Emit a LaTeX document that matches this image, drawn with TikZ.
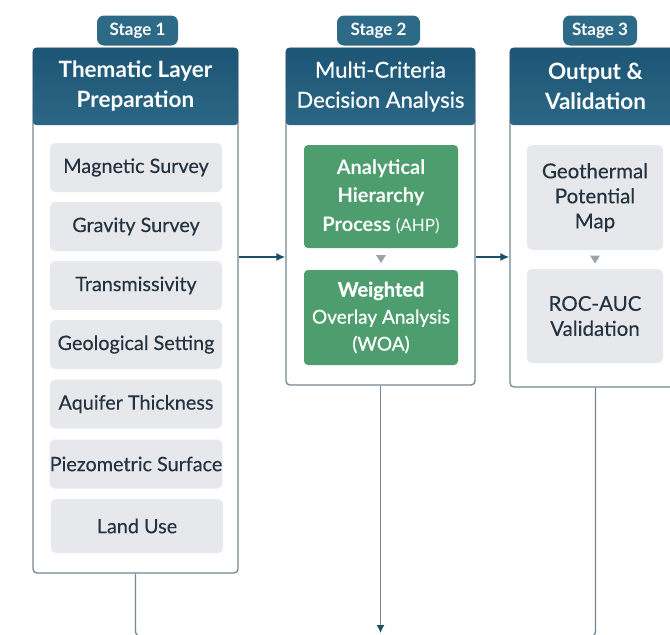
\documentclass[tikz,border=0pt]{standalone}
\usepackage{fontspec}
\setmainfont{Lato}
\newfontfamily\semifont{Lato}[FakeBold=0.6]
\newfontfamily\midfont{Lato}[FakeBold=0.25]
\usetikzlibrary{arrows.meta}

\definecolor{headblue}{HTML}{1D5575}
\definecolor{headlight}{HTML}{2B6784}
\definecolor{badgeblue}{HTML}{2D6A88}
\definecolor{layergrey}{HTML}{E6E8EB}
\definecolor{layertext}{HTML}{25323F}
\definecolor{mcdagreen}{HTML}{4E9D6E}
\definecolor{rimgrey}{HTML}{76858F}
\definecolor{flowblue}{HTML}{1E4D6B}
\definecolor{tipgrey}{HTML}{9AA3AA}

\tikzset{
  panel/.style={draw=rimgrey, line width=1.3pt, fill=white, rounded corners=4pt, inner sep=0pt},
  header/.style={top color=headblue, bottom color=headlight, rounded corners=3pt, inner sep=0pt,
    minimum height=77pt, text=white, align=center, font=\fontsize{22.5}{30}\selectfont\bfseries},
  badge/.style={fill=badgeblue, rounded corners=7pt, text=white, inner sep=0pt, minimum height=30pt,
    font=\fontsize{17}{18}\selectfont\bfseries},
  layer/.style={fill=layergrey, rounded corners=5pt, text=layertext, inner sep=0pt,
    minimum width=172pt, minimum height=49pt, font=\midfont\fontsize{19.8}{22}\selectfont},
  mcda/.style={fill=mcdagreen, rounded corners=4pt, text=white, inner sep=0pt,
    minimum width=154pt, align=center},
  result/.style={fill=layergrey, rounded corners=5pt, text=layertext, inner sep=0pt,
    minimum width=136pt, align=center, font=\midfont\fontsize{20.5}{25}\selectfont},
  flow/.style={draw=flowblue, line width=1.6pt, -{Latex[length=9pt,width=8pt]}},
  link/.style={draw=rimgrey, line width=1.3pt, rounded corners=6pt},
  tip/.style={fill=tipgrey}
}

\begin{document}
\begin{tikzpicture}[x=1pt,y=-1pt]
  \useasboundingbox[fill=white] (0,0) rectangle (670,635);
  % stage panels
  \node[panel, minimum width=205pt, minimum height=525pt] (p1) at (135.5,310.5) {};
  \node[panel, minimum width=189pt, minimum height=337pt] (p2) at (380.5,216.5) {};
  \node[panel, minimum width=171pt, minimum height=339pt] (p3) at (595.5,217.5) {};
  \node[header, minimum width=205pt] (h1) at (135.5,86.5) {Thematic Layer\\Preparation};
  \node[header, minimum width=189pt, font=\semifont\fontsize{22}{30}\selectfont] (h2) at (380.5,86.5) {Multi-Criteria\\Decision Analysis};
  \node[header, minimum width=171pt] (h3) at (595.5,86.5) {Output \&\\Validation};
  \node[badge, minimum width=81pt] (b1) at (137.5,30.5) {Stage 1};
  \node[badge, minimum width=83pt] (b2) at (378.5,30.5) {Stage 2};
  \node[badge, minimum width=74pt] (b3) at (600,30.5) {Stage 3};
  % stage 1 layers
  \node[layer] (mag) at (136,167.5) {Magnetic Survey};
  \node[layer] (grav) at (136,226.5) {Gravity Survey};
  \node[layer] (trans) at (136,285.5) {Transmissivity};
  \node[layer] (geo) at (136,344.5) {Geological Setting};
  \node[layer] (aqu) at (136,404) {Aquifer Thickness};
  \node[layer] (piezo) at (136,464) {Piezometric Surface};
  \node[layer, minimum height=54pt] (land) at (137,526) {Land Use};
  % stage 2
  \node[mcda, minimum height=103pt, font=\fontsize{20}{28.5}\selectfont\bfseries] (ahp) at (381,196.5)
    {Analytical\\Hierarchy\\Process {\mdseries\fontsize{17}{28.5}\selectfont(AHP)}};
  \node[mcda, minimum height=95pt, font=\semifont\fontsize{19}{27}\selectfont] (woa) at (381,317.5)
    {{\bfseries\fontsize{20}{27}\selectfont Weighted}\\Overlay Analysis\\(WOA)};
  % stage 3
  \node[result, minimum height=105pt] (map) at (595,197.5) {Geothermal\\Potential\\Map};
  \node[result, minimum height=94pt] (roc) at (595,316) {ROC-AUC\\Validation};
  % small tips between boxes
  \path (ahp.south) -- (woa.north) coordinate[pos=0.5] (m2);
  \fill[tip] ([xshift=-5pt,yshift=4pt]m2) -- ([xshift=5pt,yshift=4pt]m2) -- ([yshift=-4pt]m2) -- cycle;
  \path (map.south) -- (roc.north) coordinate[pos=0.5] (m3);
  \fill[tip] ([xshift=-5pt,yshift=4pt]m3) -- ([xshift=5pt,yshift=4pt]m3) -- ([yshift=-4pt]m3) -- cycle;
  % connectors
  \coordinate (lvl) at (0,257);
  \draw[flow] (p1.east |- lvl) -- (p2.west |- lvl);
  \draw[flow] (p2.east |- lvl) -- (p3.west |- lvl);
  \coordinate (bus) at (0,637);
  \draw[link] (p1.south) -- (p1.south |- bus) -- (p3.south |- bus) -- (p3.south);
  \draw[draw=rimgrey, line width=1.3pt, -{Latex[length=8pt,width=8pt,color=flowblue]}] (p2.south) -- ([yshift=4pt]p2.south |- bus);
\end{tikzpicture}
\end{document}
